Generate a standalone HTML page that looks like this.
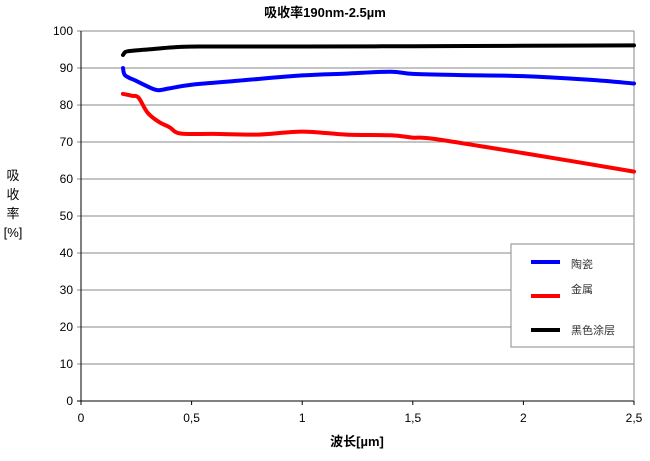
<!DOCTYPE html>
<html><head><meta charset="utf-8"><style>
body{margin:0;background:#fff;}
svg{display:block;font-family:"Liberation Sans","Noto Sans CJK SC",sans-serif;}
</style></head><body>
<svg id="chart" width="650" height="461">
<text x="325" y="17" text-anchor="middle" font-size="13" font-weight="bold">吸收率190nm-2.5µm</text>
<g id="grid"></g>
<g id="axes"></g>
<g id="series"></g>
<g font-size="13">
<text x="13" y="180" text-anchor="middle">吸</text>
<text x="13" y="199" text-anchor="middle">收</text>
<text x="13" y="218" text-anchor="middle">率</text>
<text x="13" y="237" text-anchor="middle">[%]</text>
</g>
<text x="357" y="446" text-anchor="middle" font-size="13" font-weight="bold">波长[µm]</text>
<g>
<rect x="511" y="244" width="123" height="103" fill="#fff" stroke="#888"/>
<line x1="531" y1="262" x2="560" y2="262" stroke="#00f" stroke-width="4"/>
<text x="571" y="268" font-size="11" fill="#333">陶瓷</text>
<line x1="531" y1="296" x2="560" y2="296" stroke="#f00" stroke-width="4"/>
<text x="571" y="293" font-size="11" fill="#333">金属</text>
<line x1="531" y1="330" x2="560" y2="330" stroke="#000" stroke-width="4"/>
<text x="571" y="334" font-size="11" fill="#333">黑色涂层</text>
</g>
</svg>
<script>
const xTicks=[0,0.5,1,1.5,2,2.5];
const xTickLabels=["0","0,5","1","1,5","2","2,5"];
const yTicks=[0,10,20,30,40,50,60,70,80,90,100];
const blackX=[0.19,0.2,0.22,0.3,0.45,0.6,1.0,1.5,2.0,2.5];
const blackY=[93.5,94.3,94.6,95,95.7,95.8,95.8,95.9,96,96.1];
const blueX=[0.19,0.2,0.25,0.32,0.35,0.4,0.5,0.7,1.0,1.2,1.4,1.5,1.7,2.0,2.3,2.5];
const blueY=[90,88,86.5,84.5,84,84.5,85.5,86.5,88,88.5,89,88.4,88.1,87.8,86.8,85.8];
const redX=[0.19,0.23,0.26,0.3,0.35,0.4,0.45,0.6,0.8,1.0,1.2,1.4,1.5,1.6,2.0,2.5];
const redY=[83,82.5,82,78,75.5,74,72.3,72.2,72,72.8,72,71.8,71.2,70.8,67,62];
const X0=81,X1=634,Y0=401,Y1=31;
const sx=v=>X0+(v-0)/2.5*(X1-X0);
const sy=v=>Y0-(v/100)*(Y0-Y1);
const NS="http://www.w3.org/2000/svg";
const grid=document.getElementById('grid'),axes=document.getElementById('axes'),ser=document.getElementById('series');
function mk(tag,attrs,parent){const e=document.createElementNS(NS,tag);for(const k in attrs)e.setAttribute(k,attrs[k]);parent.appendChild(e);return e;}
yTicks.forEach(t=>{
 const l=mk('line',{x1:X0-4,x2:X1,y1:sy(t),y2:sy(t),stroke:t===0?'#000':'#888','stroke-width':1},grid);
 
 
 const tx=mk('text',{x:X0-8,y:sy(t)+4,'text-anchor':'end','font-size':12},axes);
 tx.textContent=t;
 
 
});
mk('line',{x1:X0,x2:X0,y1:Y1,y2:Y0,stroke:'#000'},axes);
mk('line',{x1:X1,x2:X1,y1:Y1,y2:Y0,stroke:'#888'},axes);
xTicks.forEach((t,i)=>{
 mk('line',{x1:sx(t),x2:sx(t),y1:Y0,y2:Y0+4,stroke:'#000'},axes);
 const tx=mk('text',{x:sx(t),y:Y0+21,'text-anchor':'middle','font-size':12},axes);
 tx.textContent=xTickLabels[i];
 
 
});
function line(xs,ys,color,name){
 const P=xs.map((x,i)=>[sx(x),sy(ys[i])]);
 let d='M'+P[0][0].toFixed(1)+','+P[0][1].toFixed(1);
 for(let i=0;i<P.length-1;i++){
  const p0=P[Math.max(0,i-1)],p1=P[i],p2=P[i+1],p3=P[Math.min(P.length-1,i+2)];
  const c1=[p1[0]+(p2[0]-p0[0])/6,p1[1]+(p2[1]-p0[1])/6];
  const c2=[p2[0]-(p3[0]-p1[0])/6,p2[1]-(p3[1]-p1[1])/6];
  d+=' C'+c1.map(v=>v.toFixed(1)).join(',')+' '+c2.map(v=>v.toFixed(1)).join(',')+' '+p2.map(v=>v.toFixed(1)).join(',');
 }
 const p=mk('path',{d:d,fill:'none',stroke:color,'stroke-width':4,'stroke-linejoin':'round','stroke-linecap':'round'},ser);
 
 
}
line(redX,redY,'#f00','series-metal');
line(blueX,blueY,'#00f','series-ceramic');
line(blackX,blackY,'#000','series-black-coating');
</script>
</body></html>
